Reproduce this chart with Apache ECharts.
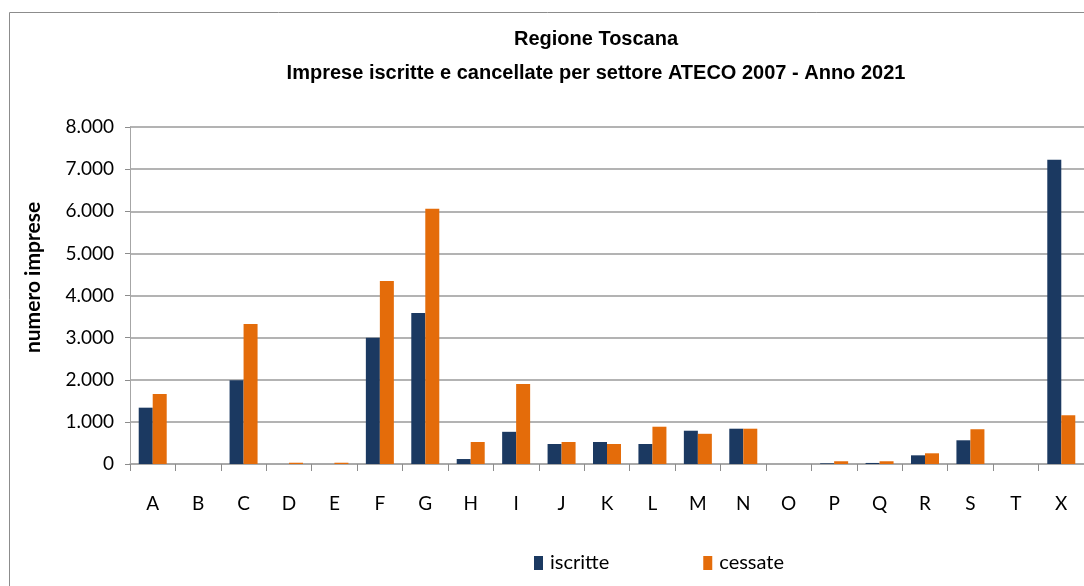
<!DOCTYPE html>
<html>
<head>
<meta charset="utf-8">
<script src="https://cdn.jsdelivr.net/npm/echarts@6/dist/echarts.min.js"></script>
<style>
  html, body { margin: 0; padding: 0; background: #fff; }
  #chart { width: 1084px; height: 586px; }
</style>
</head>
<body>
<div id="chart"></div>
<script>
// settori ATECO 2007
const categories = ["A", "B", "C", "D", "E", "F", "G", "H", "I", "J", "K",
  "L", "M", "N", "O", "P", "Q", "R", "S", "T", "X"];
const iscritte = [1337, 0, 1990, 0, 0, 3000, 3587, 118, 764, 475, 523,
  475, 790, 838, 0, 16, 25, 206, 563, 0, 7221];
const cessate = [1663, 0, 3325, 30, 30, 4347, 6057, 523, 1897, 523, 475,
  885, 717, 838, 0, 65, 65, 254, 825, 0, 1157];
const yTicks = [0, 1000, 2000, 3000, 4000, 5000, 6000, 7000, 8000];

const chartDom = document.getElementById("chart");
const myChart = echarts.init(chartDom);

const labelFont = "Lato, 'Open Sans', sans-serif";

const option = {
  animation: false,
  title: {
    text: "Regione Toscana\nImprese iscritte e cancellate per settore ATECO 2007 - Anno 2021",
    left: 591,
    top: 17,
    textAlign: "center",
    textStyle: {
      fontFamily: "'Liberation Sans Narrow', 'Liberation Sans', Arial, sans-serif",
      fontWeight: "bold",
      fontSize: 20,
      lineHeight: 34,
      color: "#000",
    },
  },
  legend: {
    left: 529,
    top: 548,
    itemWidth: 9,
    itemHeight: 14,
    itemGap: 94,
    icon: "rect",
    textStyle: {
      fontFamily: labelFont,
      fontSize: 20,
      color: "#000",
      padding: [0, 0, 0, 2],
    },
    data: ["iscritte", "cessate"],
  },
  graphic: [
    {
      type: "rect",
      shape: { x: 9.5, y: 12.5, width: 1100, height: 600 },
      style: { fill: "none", stroke: "#8c8c8c", lineWidth: 1 },
      silent: true,
    },
  ],
  grid: {
    left: 130,
    top: 127,
    width: 957,
    height: 337,
    containLabel: false,
  },
  xAxis: {
    type: "category",
    data: categories,
    boundaryGap: true,
    axisLine: { lineStyle: { color: "#a6a6a6", width: 1.5 } },
    axisTick: { show: true, length: 7, lineStyle: { color: "#8c8c8c" } },
    axisLabel: {
      margin: 30,
      fontFamily: labelFont,
      fontSize: 19,
      color: "#000",
    },
  },
  yAxis: {
    type: "value",
    min: 0,
    max: 8000,
    interval: 1000,
    name: "numero imprese",
    nameLocation: "middle",
    nameGap: 86,
    nameTextStyle: {
      fontFamily: labelFont,
      fontWeight: "bold",
      fontSize: 21,
      color: "#000",
      padding: [0, 0, 0, 36],
    },
    axisLine: { show: true, lineStyle: { color: "#a6a6a6" } },
    axisTick: { show: true, length: 5, lineStyle: { color: "#8c8c8c" } },
    splitLine: { show: true, lineStyle: { color: "#9a9a9a", width: 1.5 } },
    axisLabel: {
      margin: 16,
      fontFamily: labelFont,
      fontSize: 19,
      color: "#000",
      formatter: function (v) {
        return yTicks.indexOf(v) >= 0 ? v.toLocaleString("it-IT") : "";
      },
    },
  },
  series: [
    {
      name: "iscritte",
      type: "bar",
      data: iscritte,
      barWidth: 14,
      barGap: "0%",
      itemStyle: { color: "#1B3961" },
    },
    {
      name: "cessate",
      type: "bar",
      data: cessate,
      barWidth: 14,
      itemStyle: { color: "#E46C0A" },
    },
  ],
};

myChart.setOption(option);
</script>
</body>
</html>
